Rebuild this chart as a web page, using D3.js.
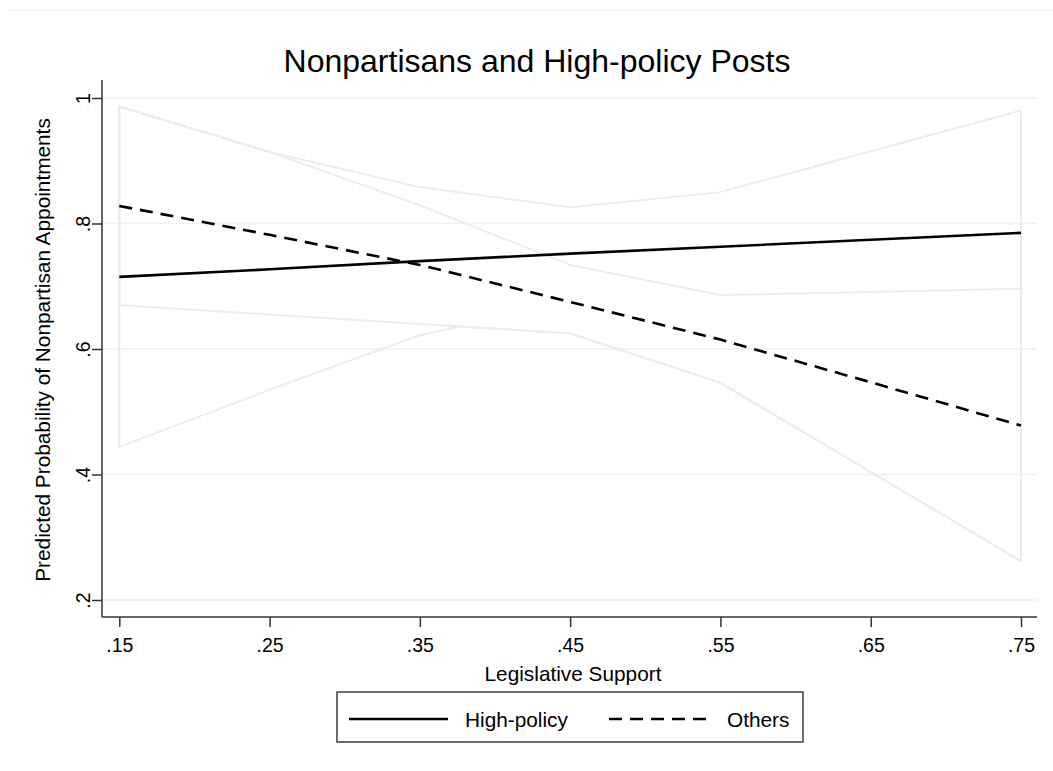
<!DOCTYPE html>
<html>
<head>
<meta charset="utf-8">
<script src="https://cdn.jsdelivr.net/npm/d3@7"></script>
<style>
  html, body { margin: 0; padding: 0; background: #fff; }
  svg { display: block; font-family: "Liberation Sans", Arial, Helvetica, sans-serif; }
</style>
</head>
<body>
<svg id="chart" width="1053" height="771"></svg>
<script>
// ---- data ----
const supportX = [0.15, 0.25, 0.35, 0.45, 0.55, 0.65, 0.75];
const highPolicy = [0.715, 0.727, 0.740, 0.752, 0.763, 0.774, 0.785];
const others = [0.828, 0.782, 0.734, 0.675, 0.615, 0.547, 0.478];
const highUpper = [0.987, 0.914, 0.858, 0.826, 0.850, 0.915, 0.980];
const highLowerX = [0.15, 0.25, 0.35, 0.377, 0.45, 0.55, 0.65, 0.75];
const highLower = [0.444, 0.535, 0.622, 0.636, 0.625, 0.546, 0.404, 0.262];
const othersUpper = [0.986, 0.914, 0.829, 0.734, 0.686, 0.691, 0.696];
const othersLower = [0.670, 0.655, 0.640, 0.625, 0.546, 0.404, 0.262];
const xTicks = [0.15, 0.25, 0.35, 0.45, 0.55, 0.65, 0.75];
const yTicks = [0.2, 0.4, 0.6, 0.8, 1.0];
const seriesNames = ["High-policy", "Others"];
const titleText = "Nonpartisans and High-policy Posts";
const xTitle = "Legislative Support";
const yTitle = "Predicted Probability of Nonpartisan Appointments";

// ---- layout ----
const svg = d3.select("#chart");
const x = d3.scaleLinear().domain([0.15, 0.75]).range([119.3, 1021]);
const y = d3.scaleLinear().domain([0.2, 1.0]).range([600, 98]);
const plotLeft = 102, plotRight = 1037, plotTop = 80, plotBottom = 617;
const fmt = v => (v === 1 ? "1" : d3.format(".2~f")(v).replace(/^0/, ""));

// faint outer line
svg.append("line").attr("x1", 8).attr("x2", 1053).attr("y1", 10).attr("y2", 10)
  .attr("stroke", "#edf2f2").attr("stroke-width", 1.5);

// gridlines
svg.append("g").selectAll("line").data(yTicks).join("line")
  .attr("x1", plotLeft).attr("x2", plotRight)
  .attr("y1", d => y(d)).attr("y2", d => y(d))
  .attr("stroke", "#eaf2f3").attr("stroke-width", 1.6);

// CI outlines
const line = d3.line().x(d => x(d[0])).y(d => y(d[1]));
function ciPoly(ux, uv, lx, lv) {
  const pts = ux.map((v, i) => [v, uv[i]]);
  const low = lx.map((v, i) => [v, lv[i]]).reverse();
  return line(pts.concat(low)) + "Z";
}
svg.append("path").attr("d", ciPoly(supportX, othersUpper, supportX, othersLower))
  .attr("fill", "none").attr("stroke", "#ececec").attr("stroke-width", 2).attr("stroke-linejoin", "round");
svg.append("path").attr("d", ciPoly(supportX, highUpper, highLowerX, highLower))
  .attr("fill", "none").attr("stroke", "#ececec").attr("stroke-width", 2).attr("stroke-linejoin", "round");

// mean lines
svg.append("path").attr("d", line(supportX.map((v, i) => [v, highPolicy[i]])))
  .attr("fill", "none").attr("stroke", "#000").attr("stroke-width", 2.6);
svg.append("path").attr("d", line(supportX.map((v, i) => [v, others[i]])))
  .attr("fill", "none").attr("stroke", "#000").attr("stroke-width", 2.6)
  .attr("stroke-dasharray", "13,8");

// axes
const axisColor = "#333";
const xAxis = svg.append("g").attr("transform", `translate(0,${plotBottom})`)
  .call(d3.axisBottom(x).tickValues(xTicks).tickSize(10).tickSizeOuter(0).tickFormat(fmt));
xAxis.select(".domain").attr("d", `M${plotLeft},0H${plotRight}`).attr("stroke", axisColor).attr("stroke-width", 1.5);
xAxis.selectAll(".tick line").attr("stroke", axisColor).attr("stroke-width", 1.5);
xAxis.selectAll(".tick text").attr("font-size", 19.5).attr("fill", "#000")
  .attr("font-family", "Liberation Sans, Arial, sans-serif").attr("y", 0).attr("dy", null)
  .attr("transform", "translate(0,35)");

const yAxis = svg.append("g").attr("transform", `translate(${plotLeft},0)`)
  .call(d3.axisLeft(y).tickValues(yTicks).tickSize(10).tickSizeOuter(0).tickFormat(fmt));
yAxis.select(".domain").attr("d", `M0,${plotTop}V${plotBottom}`).attr("stroke", axisColor).attr("stroke-width", 1.5);
yAxis.selectAll(".tick line").attr("stroke", axisColor).attr("stroke-width", 1.5);
yAxis.selectAll(".tick text").attr("font-size", 19.5).attr("fill", "#000")
  .attr("font-family", "Liberation Sans, Arial, sans-serif")
  .attr("x", null).attr("dy", null).attr("text-anchor", "middle")
  .attr("transform", "translate(-12,0) rotate(-90)");

// titles
svg.append("text").attr("x", 537).attr("y", 72).attr("text-anchor", "middle")
  .attr("font-size", 32).attr("fill", "#000").text(titleText);
svg.append("text").attr("x", 573).attr("y", 681).attr("text-anchor", "middle")
  .attr("font-size", 20.8).attr("fill", "#000").text(xTitle);
svg.append("text").attr("transform", `translate(50,350) rotate(-90)`).attr("text-anchor", "middle")
  .attr("font-size", 20.8).attr("fill", "#000").text(yTitle);

// legend
const lg = svg.append("g");
lg.append("rect").attr("x", 337).attr("y", 692).attr("width", 466).attr("height", 50)
  .attr("fill", "#fff").attr("stroke", "#222").attr("stroke-width", 1.3);
lg.append("line").attr("x1", 349).attr("x2", 448).attr("y1", 719).attr("y2", 719)
  .attr("stroke", "#000").attr("stroke-width", 2.6);
lg.append("text").attr("x", 465).attr("y", 727).attr("font-size", 20.8).text(seriesNames[0]);
lg.append("line").attr("x1", 609).attr("x2", 710).attr("y1", 719).attr("y2", 719)
  .attr("stroke", "#000").attr("stroke-width", 2.6).attr("stroke-dasharray", "13,8");
lg.append("text").attr("x", 727).attr("y", 727).attr("font-size", 20.8).text(seriesNames[1]);
</script>
</body>
</html>
